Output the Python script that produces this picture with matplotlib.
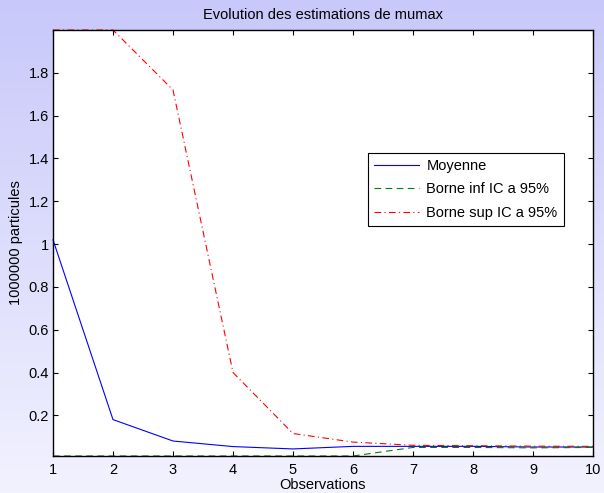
import numpy as np
import matplotlib
matplotlib.use("Agg")
import matplotlib.pyplot as plt

observations = [1, 2, 3, 4, 5, 6, 7, 8, 9, 10]
moyenne = [1.02, 0.18, 0.08, 0.054, 0.043, 0.055, 0.055, 0.055, 0.052, 0.052]
borne_inf = [0.01, 0.01, 0.01, 0.01, 0.01, 0.01, 0.05, 0.05, 0.048, 0.05]
borne_sup = [2.0, 2.0, 1.72, 0.40, 0.115, 0.075, 0.06, 0.058, 0.056, 0.055]
yticks = [0.2, 0.4, 0.6, 0.8, 1.0, 1.2, 1.4, 1.6, 1.8]
ytick_labels = ["0.2", "0.4", "0.6", "0.8", "1", "1.2", "1.4", "1.6", "1.8"]

plt.rcParams['font.family'] = ['Liberation Sans', 'DejaVu Sans']

W, H = 604, 493
fig = plt.figure(figsize=(W/100, H/100), dpi=100)

# gradient background
bg = fig.add_axes([0, 0, 1, 1], zorder=-10)
grad = np.linspace(0, 1, 256).reshape(-1, 1)
top = np.array([200, 200, 250]) / 255.0
bot = np.array([242, 242, 255]) / 255.0
img = top[None, None, :] * (1 - grad[:, :, None]) + bot[None, None, :] * grad[:, :, None]
bg.imshow(img, aspect='auto', extent=[0, 1, 0, 1])
bg.axis('off')

L, R, T, B = 53, 593, 30, 456
ax = fig.add_axes([L/W, (H-B)/H, (R-L)/W, (B-T)/H])
ax.set_facecolor('white')

ax.plot(observations, moyenne, color=(0, 0, 1), lw=0.8, linestyle='-', label='Moyenne', clip_on=False)
ax.plot(observations, borne_inf, color=(0, 0.5, 0), lw=0.8, linestyle=(0, (6, 4)), label='Borne inf IC a 95%', clip_on=False)
ax.plot(observations, borne_sup, color=(1, 0, 0), lw=0.8, linestyle=(0, (6, 3, 1, 3)), label='Borne sup IC a 95%', clip_on=False)

ax.set_xlim(1, 10)
ax.set_ylim(0.01, 2.0)
ax.set_xticks(observations)
ax.set_xticklabels([str(v) for v in observations])
ax.set_yticks(yticks)
ax.set_yticklabels(ytick_labels)
ax.tick_params(direction='in', top=True, right=True, labelsize=10.5, length=3.8, width=0.8, pad=3)
ax.tick_params(axis='x', pad=5)
for s in ax.spines.values():
    s.set_linewidth(1.0)

ax.set_title('Evolution des estimations de mumax', fontsize=10.5, pad=8)
ax.set_xlabel('Observations', fontsize=10.5, labelpad=0.5)
ax.set_ylabel('1000000 particules', fontsize=10.5, labelpad=4)

leg = ax.legend(loc='upper left', bbox_to_anchor=((368-L)/(R-L), (B-152.5)/(B-T)),
                fontsize=10.5, frameon=True, fancybox=False, framealpha=1,
                edgecolor='black', borderpad=0.42, handlelength=3.1, labelspacing=0.66,
                handletextpad=0.48, borderaxespad=0)
leg.get_frame().set_linewidth(0.8)

fig.savefig('out.png', dpi=100)
